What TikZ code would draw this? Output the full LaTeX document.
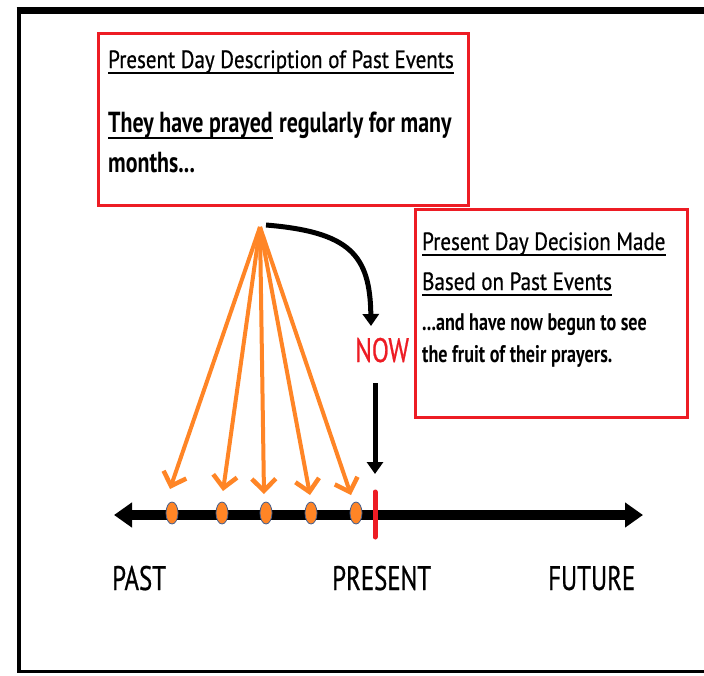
\documentclass[tikz,border=0pt]{standalone}
\usepackage{fontspec}
\setmainfont{PT Sans}
\newfontfamily\titlefam[FakeStretch=0.84,FakeBold=0.6]{PT Sans}
\newfontfamily\bodyfam[FakeStretch=0.755]{PT Sans}
\newfontfamily\labelfam[FakeStretch=0.73,FakeBold=0.6]{PT Sans}
\usetikzlibrary{arrows.meta,shapes.geometric}
\definecolor{boxred}{RGB}{237,28,36}
\definecolor{myorange}{RGB}{255,133,38}
\definecolor{dotedge}{RGB}{70,95,140}
\tikzset{
  redbox/.style={draw=boxred, line width=2.5pt, anchor=north west, inner sep=0pt},
  titletext/.style={anchor=base west, inner sep=0pt, font=\titlefam\fontsize{25}{30}\selectfont},
  body1text/.style={anchor=base west, inner sep=0pt, font=\bodyfam\bfseries\fontsize{29}{34}\selectfont},
  body2text/.style={anchor=base west, inner sep=0pt, font=\bodyfam\bfseries\fontsize{24}{28}\selectfont},
  axislabel/.style={anchor=base west, inner sep=0pt, font=\labelfam\fontsize{34}{40}\selectfont},
  uline/.style={line width=2.5pt},
  orangearrow/.style={draw=myorange, line width=4pt, -{Straight Barb[length=12pt,width=24pt,line width=4.5pt]}},
  blackarrow/.style={draw=black, line width=5pt, -{Triangle[length=12pt,width=16pt]}},
  pastdot/.style={ellipse, fill=myorange, draw=dotedge, line width=0.8pt, minimum width=12pt, minimum height=22pt, inner sep=0pt}
}
\begin{document}
\begin{tikzpicture}[x=1pt,y=-1pt]
\useasboundingbox (0,0) rectangle (704,675);
\fill[white] (0,0) rectangle (704,675);
% frame
\draw[line width=7pt] (16.5,10.5) -- (710,10.5);
\draw[line width=4.5pt] (19,7) -- (19,672.5);
\draw[line width=3pt] (17,671) -- (710,671);

% box 1
\node[redbox, minimum width=370pt, minimum height=172pt] (box1) at (97,32) {};
\node[titletext] (t1) at (108,68) {Present Day Description of Past Events};
\draw[uline] ([yshift=-5pt]t1.base west) -- ([yshift=-5pt]t1.base east);
\node[body1text] (b1a) at (108,132) {They have prayed};
\draw[uline] ([yshift=-6pt]b1a.base west) -- ([yshift=-6pt]b1a.base east);
\node[body1text] (b1b) at ([xshift=6pt]b1a.base east) {regularly for many};
\node[body1text] (b1c) at (108,172) {months...};

% box 2
\node[redbox, minimum width=272pt, minimum height=208pt] (box2) at (414,208) {};
\node[titletext] (t2a) at (422,250) {Present Day Decision Made};
\draw[uline] ([yshift=-5pt]t2a.base west) -- ([yshift=-5pt]t2a.base east);
\node[titletext] (t2b) at (422,290) {Based on Past Events};
\draw[uline] ([yshift=-5pt]t2b.base west) -- ([yshift=-5pt]t2b.base east);
\node[body2text] (b2a) at (422,330) {...and have now begun to see};
\node[body2text] (b2b) at (422,362) {the fruit of their prayers.};

% NOW
\node[axislabel, text=boxred] (now) at (355,362) {NOW};

% timeline
\coordinate (tl) at (114,515);
\coordinate (tr) at (643,515);
\draw[line width=10pt, {Triangle[length=18pt,width=24pt]}-{Triangle[length=18pt,width=24pt]}] (tl) -- (tr);
\node[pastdot] (d1) at (172,513) {};
\node[pastdot] (d2) at (222,513) {};
\node[pastdot] (d3) at (266,513) {};
\node[pastdot] (d4) at (311,513) {};
\node[pastdot] (d5) at (356,513) {};
\coordinate (ticktop) at (375,492);
\coordinate (tickbot) at (375,537);
\draw[boxred, line width=5pt, line cap=round] (ticktop) -- (tickbot);

% labels
\node[axislabel] (past) at (112,590) {PAST};
\node[axislabel] (present) at (332,590) {PRESENT};
\node[axislabel] (future) at (548,590) {FUTURE};

% orange arrows
\coordinate (apex) at (260,227);
\coordinate (a1) at (170,489);
\coordinate (a2) at (223,491);
\coordinate (a3) at (264,494);
\coordinate (a4) at (310,495);
\coordinate (a5) at (351,495);
\foreach \t in {a1,a2,a3,a4,a5} \draw[orangearrow] (apex) -- (\t);

% black arrows
\coordinate (cstart) at (266,225);
\coordinate (cend) at (371,326);
\draw[blackarrow] (cstart) .. controls (350,232) and (370,255) .. (cend);
\coordinate (sstart) at (375,383);
\coordinate (send) at (375,474);
\draw[blackarrow] (sstart) -- (send);
\end{tikzpicture}
\end{document}
